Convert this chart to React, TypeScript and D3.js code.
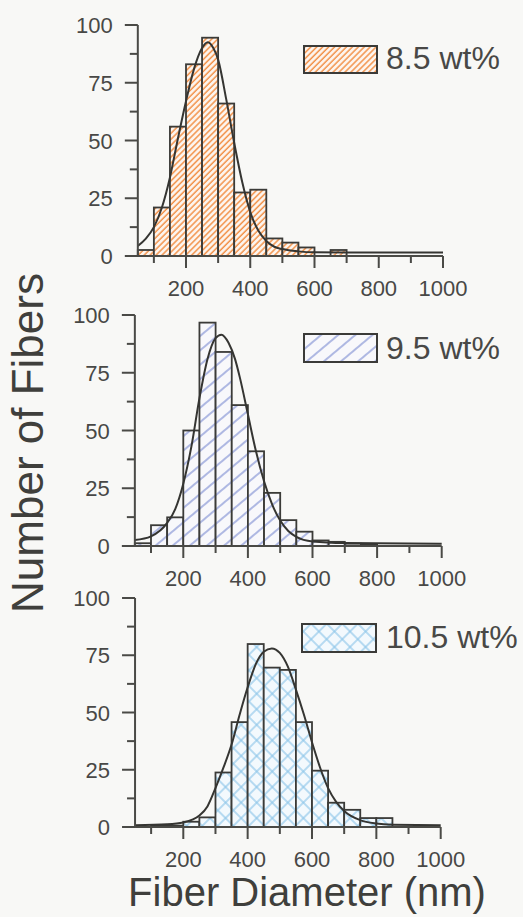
import React from "react";
import * as d3 from "d3";

// ---- data ----
const binStarts = [50, 100, 150, 200, 250, 300, 350, 400, 450, 500, 550, 600, 650, 700, 750, 800, 850, 900, 950];
const counts85 = [2.6, 21, 56, 83, 94.5, 66, 27.5, 28.7, 7.6, 5.8, 3.7, 0, 2.6, 0, 0, 0, 0, 0, 0];
const counts95 = [1.2, 9, 12.4, 50, 96.7, 84, 61, 41, 23, 11.2, 6.2, 2.4, 1.8, 1, 0.8, 0, 0, 0, 0];
const counts105 = [0, 0.5, 0.6, 2.3, 4.2, 23.8, 45.8, 79.9, 69.6, 68.6, 45.8, 24.6, 10.6, 7.5, 3.9, 3.9, 0, 0, 0];

const fitX85 = [50, 75, 100, 125, 150, 175, 200, 225, 250, 268, 285, 300, 325, 350, 375, 400, 425, 450, 475, 500, 550, 600, 700, 1000];
const fitY85 = [4.3, 7.5, 12.5, 21, 34, 51, 67, 81, 90, 92.5, 90, 85, 68, 49, 32, 19, 11, 6.5, 4, 3, 2, 1.6, 1.5, 1.5];
const fitX95 = [50, 100, 150, 175, 200, 225, 250, 275, 300, 318, 340, 360, 375, 400, 425, 450, 475, 500, 525, 550, 600, 700, 1000];
const fitY95 = [2.6, 4.2, 10, 16, 27, 43, 64, 81, 90, 91.5, 88, 81, 73, 57, 41, 28, 18, 11, 6.5, 4, 2, 1.3, 1];
const fitX105 = [50, 150, 200, 250, 275, 300, 325, 350, 375, 400, 425, 450, 475, 500, 525, 550, 575, 600, 625, 650, 675, 700, 750, 800, 850, 1000];
const fitY105 = [0.8, 1.2, 2, 5, 9, 17, 26, 36, 49, 61, 71, 76.5, 78, 76, 70, 60, 49, 37, 26, 17, 11, 7, 3, 1.5, 1, 0.8];

const labels = ["8.5 wt%", "9.5 wt%", "10.5 wt%"];
const xTickLabels = [200, 400, 600, 800, 1000];
const xMinorTicks = [100, 300, 500, 700, 900];
const yTickLabels = [0, 25, 50, 75, 100];
const yMinorTicks = [12.5, 37.5, 62.5, 87.5];
const binWidth = 50;

// ---- layout ----
const panels = [
  { counts: counts85, fx: fitX85, fy: fitY85, label: labels[0], pat: "p85", x200: 186, x1000: 443, y0: 256, y100: 25, leg: [304, 46, 73, 27], legText: [386, 69] },
  { counts: counts95, fx: fitX95, fy: fitY95, label: labels[1], pat: "p95", x200: 183.3, x1000: 441.7, y0: 546, y100: 315, leg: [304, 334, 73, 28], legText: [386, 359] },
  { counts: counts105, fx: fitX105, fy: fitY105, label: labels[2], pat: "p105", x200: 183.3, x1000: 440.7, y0: 827, y100: 598, leg: [302, 624, 74, 28], legText: [386, 648] },
];

const FONT = "'Liberation Sans', Arial, Helvetica, sans-serif";
const AX = "#4a4a46";
const TXT = "#484846";
const OUT = "#3b3b38";

function Panel({ p }: { p: any }) {
  const x = d3.scaleLinear().domain([200, 1000]).range([p.x200, p.x1000]);
  const y = d3.scaleLinear().domain([0, 100]).range([p.y0, p.y100]);
  const x50 = x(50);
  const line = d3
    .line<number>()
    .x((_, i) => x(p.fx[i]))
    .y((d) => y(d))
    .curve(d3.curveMonotoneX);
  return (
    <g>
      {binStarts.map((b, i) =>
        p.counts[i] > 0 ? (
          <rect
            key={b}
            x={x(b)}
            y={y(p.counts[i])}
            width={x(b + binWidth) - x(b)}
            height={y(0) - y(p.counts[i])}
            fill={`url(#${p.pat})`}
            stroke={OUT}
            strokeWidth={1.8}
          />
        ) : null
      )}
      <path d={line(p.fy) || ""} fill="none" stroke="#353532" strokeWidth={2} />
      {/* axes */}
      <line x1={x50} x2={x(1000)} y1={y(0)} y2={y(0)} stroke={AX} strokeWidth={2} />
      <line x1={x50} x2={x50} y1={y(0)} y2={y(100)} stroke={AX} strokeWidth={2} />
      {xTickLabels.map((t) => (
        <g key={"xt" + t}>
          <line x1={x(t)} x2={x(t)} y1={y(0)} y2={y(0) + 12} stroke={AX} strokeWidth={2} />
          <text x={x(t)} y={y(0) + 40} textAnchor="middle" fontSize={22} fill={TXT} fontFamily={FONT}>
            {t}
          </text>
        </g>
      ))}
      {xMinorTicks.map((t) => (
        <line key={"xm" + t} x1={x(t)} x2={x(t)} y1={y(0)} y2={y(0) + 7} stroke={AX} strokeWidth={2} />
      ))}
      {yTickLabels.map((t) => (
        <g key={"yt" + t}>
          <line x1={x50 - 13} x2={x50} y1={y(t)} y2={y(t)} stroke={AX} strokeWidth={2} />
          <text x={x50 - 25} y={y(t) + 8} textAnchor="end" fontSize={22} fill={TXT} fontFamily={FONT}>
            {t}
          </text>
        </g>
      ))}
      {yMinorTicks.map((t) => (
        <line key={"ym" + t} x1={x50 - 8} x2={x50} y1={y(t)} y2={y(t)} stroke={AX} strokeWidth={2} />
      ))}
      {/* legend */}
      <rect x={p.leg[0]} y={p.leg[1]} width={p.leg[2]} height={p.leg[3]} fill={`url(#${p.pat})`} stroke={OUT} strokeWidth={2} />
      <text x={p.legText[0]} y={p.legText[1]} fontSize={32} fill={TXT} fontFamily={FONT}>
        {p.label}
      </text>
    </g>
  );
}

export default function App() {
  return (
    <svg
      width={523}
      height={917}
      style={{ position: "absolute", left: 0, top: 0, background: "#f8f8f6" }}
    >
      <defs>
        <pattern id="p85" patternUnits="userSpaceOnUse" width={4.2} height={10} patternTransform="rotate(45)">
          <rect width={4.2} height={10} fill="#fdf6f0" />
          <line x1={1} x2={1} y1={0} y2={10} stroke="#f2924a" strokeWidth={1.5} />
        </pattern>
        <pattern id="p95" patternUnits="userSpaceOnUse" width={11} height={10} patternTransform="rotate(50)">
          <rect width={11} height={10} fill="#f8f8fb" />
          <line x1={1} x2={1} y1={0} y2={10} stroke="#7283cf" strokeWidth={1.1} />
        </pattern>
        <pattern id="p105" patternUnits="userSpaceOnUse" width={11} height={11} patternTransform="rotate(45)">
          <rect width={11} height={11} fill="#f3f9fd" />
          <line x1={1} x2={1} y1={0} y2={11} stroke="#8dc6ea" strokeWidth={1.2} />
          <line x1={0} x2={11} y1={1} y2={1} stroke="#8dc6ea" strokeWidth={1.2} />
        </pattern>
      </defs>
      <rect width={523} height={917} fill="#f8f8f6" />
      {panels.map((p, i) => (
        <Panel key={i} p={p} />
      ))}
      <text
        transform="translate(43,443) rotate(-90)"
        textAnchor="middle"
        fontSize={44}
        fill="#3f3f3c"
        fontFamily={FONT}
      >
        Number of Fibers
      </text>
      <text x={307} y={906} textAnchor="middle" fontSize={40} fill="#3f3f3c" fontFamily={FONT}>
        Fiber Diameter (nm)
      </text>
    </svg>
  );
}
